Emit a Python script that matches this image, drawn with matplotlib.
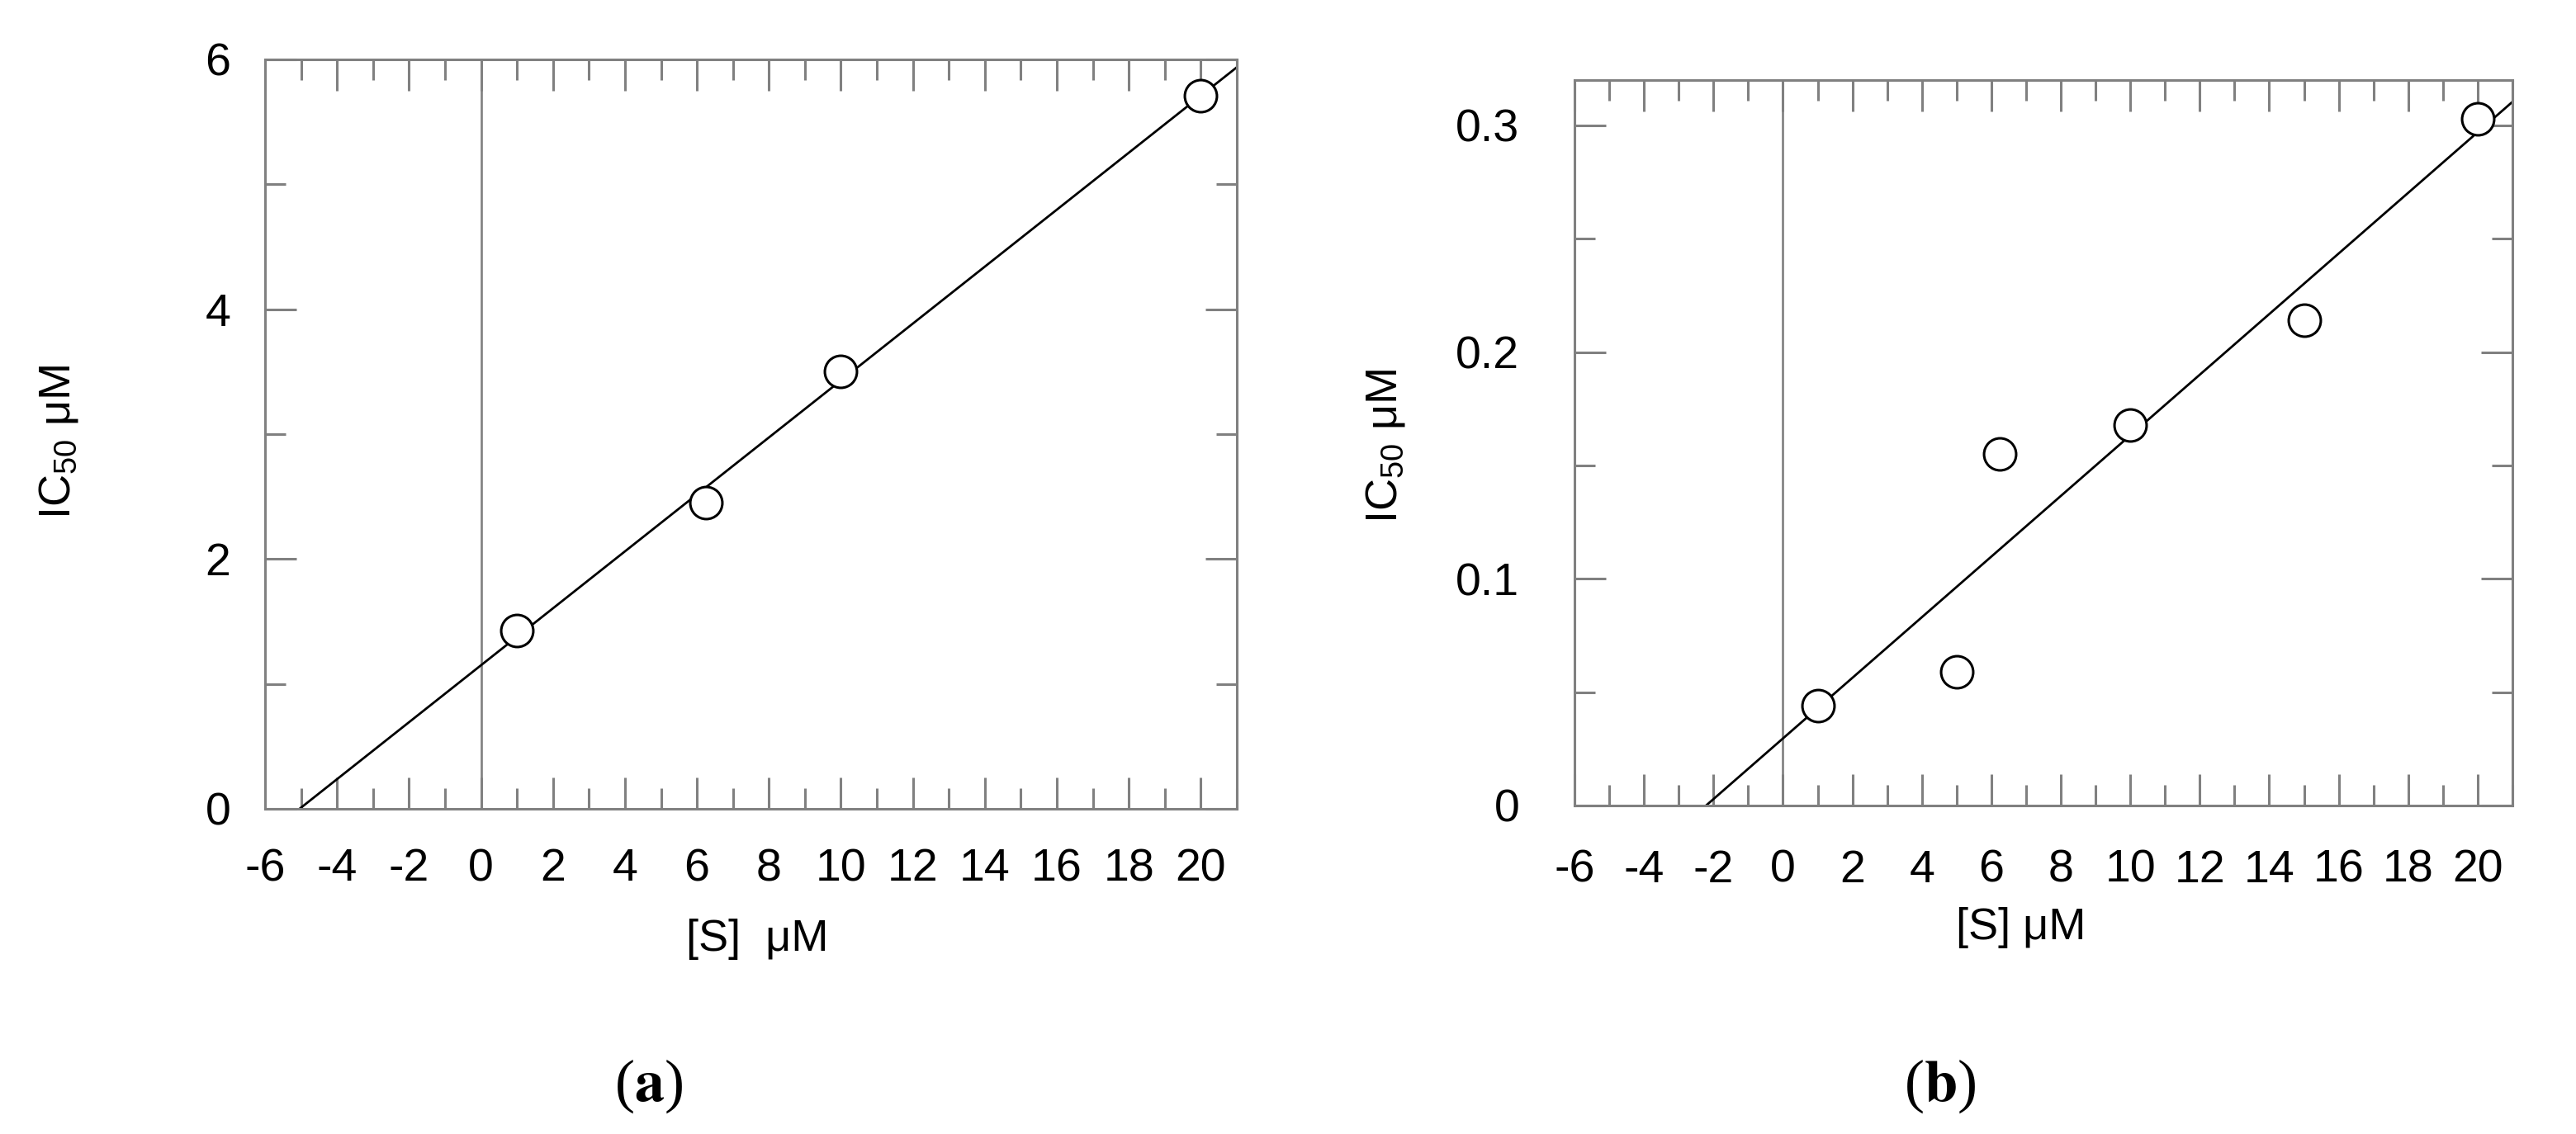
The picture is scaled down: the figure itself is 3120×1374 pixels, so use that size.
import numpy as np
import matplotlib
matplotlib.use('Agg')
import matplotlib.pyplot as plt
from matplotlib.ticker import MultipleLocator

plt.rcParams['font.family'] = ['Liberation Sans', 'DejaVu Sans']
plt.rcParams['axes.unicode_minus'] = False

# panel (a): IC50 vs substrate concentration
s_a = [1, 6.25, 10, 20]
ic50_a = [1.43, 2.45, 3.50, 5.71]

# panel (b)
s_b = [1, 5, 6.25, 10, 15, 20]
ic50_b = [0.044, 0.059, 0.155, 0.168, 0.214, 0.303]

x_ticks = list(range(-6, 21, 2))
y_ticks_a = [0, 2, 4, 6]
y_labels_a = ['0', '2', '4', '6']
y_ticks_b = [0, 0.1, 0.2, 0.3]
y_labels_b = ['0', '0.1', '0.2', '0.3']

gray = '#808080'
W, H = 3120, 1374

fig = plt.figure(figsize=(W / 200, H / 200), dpi=200)
ax_a = fig.add_axes([321 / W, (H - 980) / H, 1177 / W, 908 / H])
ax_b = fig.add_axes([1907 / W, (H - 976) / H, 1136 / W, 879 / H])


def draw_panel(ax, x, y, ylim, yticks, ylabels, yminor, xpad, ypad, xlab, xlab_pos, ylab_pos):
    xmax = 21
    ax.set_xlim(-6, xmax)
    ax.set_ylim(*ylim)

    # zero line
    ax.axvline(0, color=gray, lw=0.95, zorder=1)

    # linear fit, drawn from the x intercept to the right edge
    slope, icpt = np.polyfit(x, y, 1)
    xs = np.array([-icpt / slope, xmax])
    ax.plot(xs, slope * xs + icpt, color='black', lw=1.0, zorder=2, clip_on=False)

    ax.plot(x, y, 'o', ms=14, mfc='white', mec='black', mew=1.1, zorder=3, clip_on=False)

    ax.set_xticks(x_ticks)
    ax.xaxis.set_minor_locator(MultipleLocator(1))
    ax.set_yticks(yticks)
    ax.set_yticklabels(ylabels)
    ax.yaxis.set_minor_locator(MultipleLocator(yminor))

    for sp in ax.spines.values():
        sp.set_color(gray)
        sp.set_linewidth(1.1)

    ax.tick_params(which='both', direction='in', top=True, right=True,
                   color=gray, width=1.1, labelsize=20, labelcolor='black')
    ax.tick_params(which='major', length=13.7)
    ax.tick_params(which='minor', length=9)
    ax.tick_params(axis='x', pad=xpad)
    ax.tick_params(axis='y', pad=ypad)

    ax.set_xlabel(xlab, fontsize=19.5)
    ax.xaxis.set_label_coords(*xlab_pos)
    ax.set_ylabel(r'IC$_{\mathregular{50}}$ μM', fontsize=19.5)
    ax.yaxis.set_label_coords(*ylab_pos)


draw_panel(ax_a, s_a, ic50_a, (0, 6), y_ticks_a, y_labels_a, 1,
           xpad=17, ypad=15, xlab='[S]  μM', xlab_pos=(0.507, -0.146),
           ylab_pos=(-0.19, 0.49))
draw_panel(ax_b, s_b, ic50_b, (0, 0.32), y_ticks_b, y_labels_b, 0.05,
           xpad=19, ypad=24, xlab='[S] μM', xlab_pos=(0.476, -0.14),
           ylab_pos=(-0.179, 0.495))

# panel captions
cap_font = ['Liberation Serif', 'DejaVu Serif']
fig.text(786 / W, (H - 1316) / H, r'($\mathbf{a}$)', family=cap_font, fontsize=26,
         ha='center', va='center', math_fontfamily='stix')
fig.text(2350 / W, (H - 1316) / H, r'($\mathbf{b}$)', family=cap_font, fontsize=26,
         ha='center', va='center', math_fontfamily='stix')

fig.savefig('out.png', dpi=200)
